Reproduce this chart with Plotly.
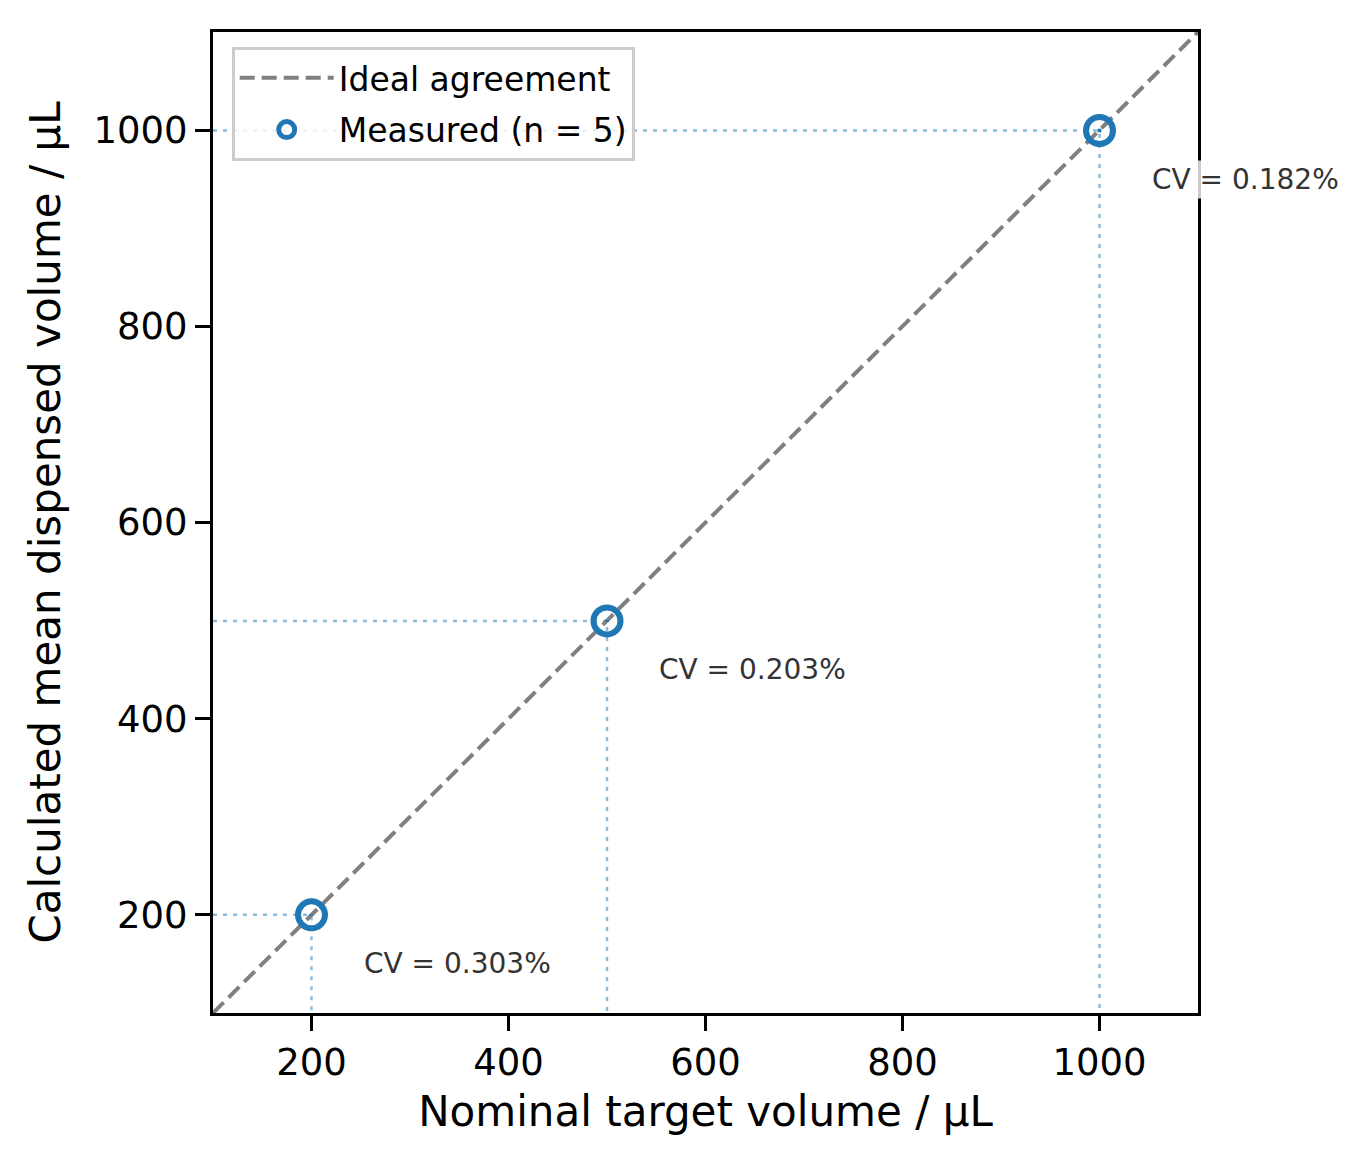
import plotly.graph_objects as go

# nominal target volumes (µL) and measured means / CV
nominal = [200, 500, 1000]
mean_measured = [200.1, 499.7, 999.6]
cv_percent = [0.303, 0.203, 0.182]
n_reps = 5

axis_min, axis_max = 100, 1100
tick_vals = [200, 400, 600, 800, 1000]

blue = "#1f77b4"
font_family = "DejaVu Sans, Liberation Sans, sans-serif"

fig = go.Figure()

# dotted guide lines from the axes to each point
for x, y in zip(nominal, mean_measured):
    fig.add_trace(go.Scatter(
        x=[axis_min, x, x],
        y=[y, y, axis_min],
        mode="lines",
        line=dict(color="rgba(31,119,180,0.5)", width=2.5, dash="4px,6px"),
        showlegend=False,
        hoverinfo="skip",
    ))

# ideal y = x line
fig.add_trace(go.Scatter(
    x=[axis_min, axis_max],
    y=[axis_min, axis_max],
    mode="lines",
    name="Ideal agreement",
    legendgroup="ideal",
    line=dict(color="gray", width=4, dash="15px,7px"),
))

# measured means with SD error bars (SD = CV * mean)
sd = [m * c / 100 for m, c in zip(mean_measured, cv_percent)]
fig.add_trace(go.Scatter(
    x=nominal,
    y=mean_measured,
    mode="markers",
    name=f"Measured (n = {n_reps})",
    legendgroup="measured",
    marker=dict(size=27, color="rgba(0,0,0,0)", line=dict(color=blue, width=6)),
    error_y=dict(type="data", array=sd, color=blue, thickness=4, width=0),
))

for x, y, cv in zip(nominal, mean_measured, cv_percent):
    fig.add_annotation(
        x=x + 50, y=y - 50,
        text=f"CV = {cv:.3f}%",
        showarrow=False,
        xanchor="left", yanchor="middle",
        font=dict(size=28, color="#333333", family=font_family),
        bgcolor="rgba(255,255,255,0.8)",
        borderpad=2,
    )

axis_style = dict(
    range=[axis_min, axis_max],
    tickvals=tick_vals,
    showgrid=False,
    zeroline=False,
    showline=True,
    linecolor="black",
    linewidth=3,
    mirror=True,
    ticks="outside",
    ticklen=15,
    tickwidth=3,
    tickcolor="black",
    tickfont=dict(size=37, color="black", family=font_family),
)

fig.update_layout(
    width=1370,
    height=1170,
    margin=dict(l=205, r=180, t=24, b=165),
    plot_bgcolor="white",
    paper_bgcolor="white",
    font=dict(family=font_family, color="black"),
    xaxis=dict(
        **axis_style,
        title=dict(text="Nominal target volume / µL", font=dict(size=42), standoff=14),
    ),
    yaxis=dict(
        **axis_style,
        title=dict(text="Calculated mean dispensed volume / µL", font=dict(size=42), standoff=20),
    ),
    legend=dict(
        x=0.019, y=0.985,
        xanchor="left", yanchor="top",
        bgcolor="rgba(255,255,255,0.8)",
        bordercolor="#cccccc",
        borderwidth=3,
        font=dict(size=33, color="black"),
        itemwidth=94,
        traceorder="grouped",
        tracegroupgap=6,
    ),
    showlegend=True,
)

fig.write_html("out.html")
